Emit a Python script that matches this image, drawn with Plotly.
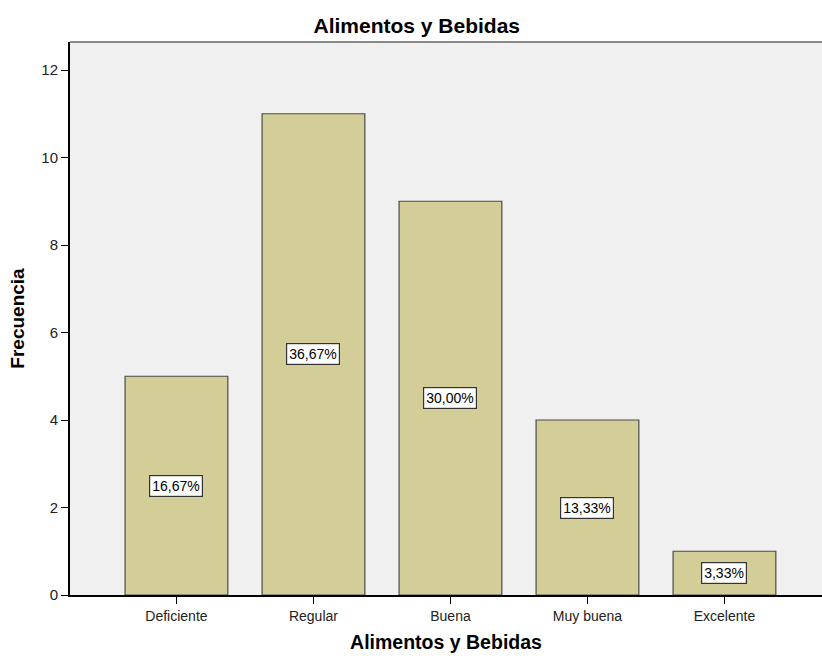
import plotly.graph_objects as go

categorias = ["Deficiente", "Regular", "Buena", "Muy buena", "Excelente"]
frecuencia = [5, 11, 9, 4, 1]
porcentajes = ["16,67%", "36,67%", "30,00%", "13,33%", "3,33%"]

fuente = "Liberation Sans, Arial, sans-serif"

fig = go.Figure(go.Bar(
    x=list(range(len(categorias))),
    y=frecuencia,
    marker=dict(color="#D3CE98", line=dict(color="#4A4A4A", width=1.2)),
    width=0.75,
    hoverinfo="skip",
))

# etiquetas de porcentaje en mitad de cada barra
for i, (v, p) in enumerate(zip(frecuencia, porcentajes)):
    fig.add_annotation(
        x=i, y=v / 2, text=p, showarrow=False,
        font=dict(family=fuente, size=14, color="#000000"),
        bgcolor="#FFFFFF", bordercolor="#333333", borderwidth=1.2, borderpad=2,
    )

# borde superior del area de trazado
fig.add_shape(type="line", xref="paper", yref="paper", x0=0, x1=1, y0=1, y1=1,
              line=dict(color="#8A8A8A", width=2))

fig.update_layout(
    width=822, height=656,
    margin=dict(l=70, r=0, t=42, b=61),
    paper_bgcolor="#FFFFFF",
    plot_bgcolor="#F0F0F0",
    showlegend=False,
    title=dict(text="<b>Alimentos y Bebidas</b>", x=0.507, xanchor="center",
               y=0.961, yanchor="middle",
               font=dict(family=fuente, size=21, color="#000000")),
    xaxis=dict(
        range=[-0.777, 4.712],
        tickmode="array", tickvals=list(range(len(categorias))), ticktext=categorias,
        ticks="outside", ticklen=7, tickcolor="#000000", tickwidth=1.2,
        showline=True, linecolor="#000000", linewidth=2,
        showgrid=False, zeroline=False, automargin=False,
        tickfont=dict(family=fuente, size=14, color="#222222"),
        title=dict(text="<b>Alimentos y Bebidas</b>", standoff=13,
                   font=dict(family=fuente, size=19.5, color="#000000")),
    ),
    yaxis=dict(
        range=[0, 12.64],
        tickmode="array", tickvals=[0, 2, 4, 6, 8, 10, 12],
        ticks="outside", ticklen=7, tickcolor="#000000", tickwidth=1.2,
        showline=True, linecolor="#000000", linewidth=2,
        showgrid=False, zeroline=False, automargin=False,
        tickfont=dict(family=fuente, size=15, color="#222222"),
        title=dict(text="<b>Frecuencia</b>", standoff=12,
                   font=dict(family=fuente, size=19, color="#000000")),
    ),
)

# quitar el margen del body para que la figura ocupe toda la ventana
fig.write_html("out.html", config={"displayModeBar": False},
               post_script="document.body.style.margin='0';document.body.style.overflow='hidden';")
